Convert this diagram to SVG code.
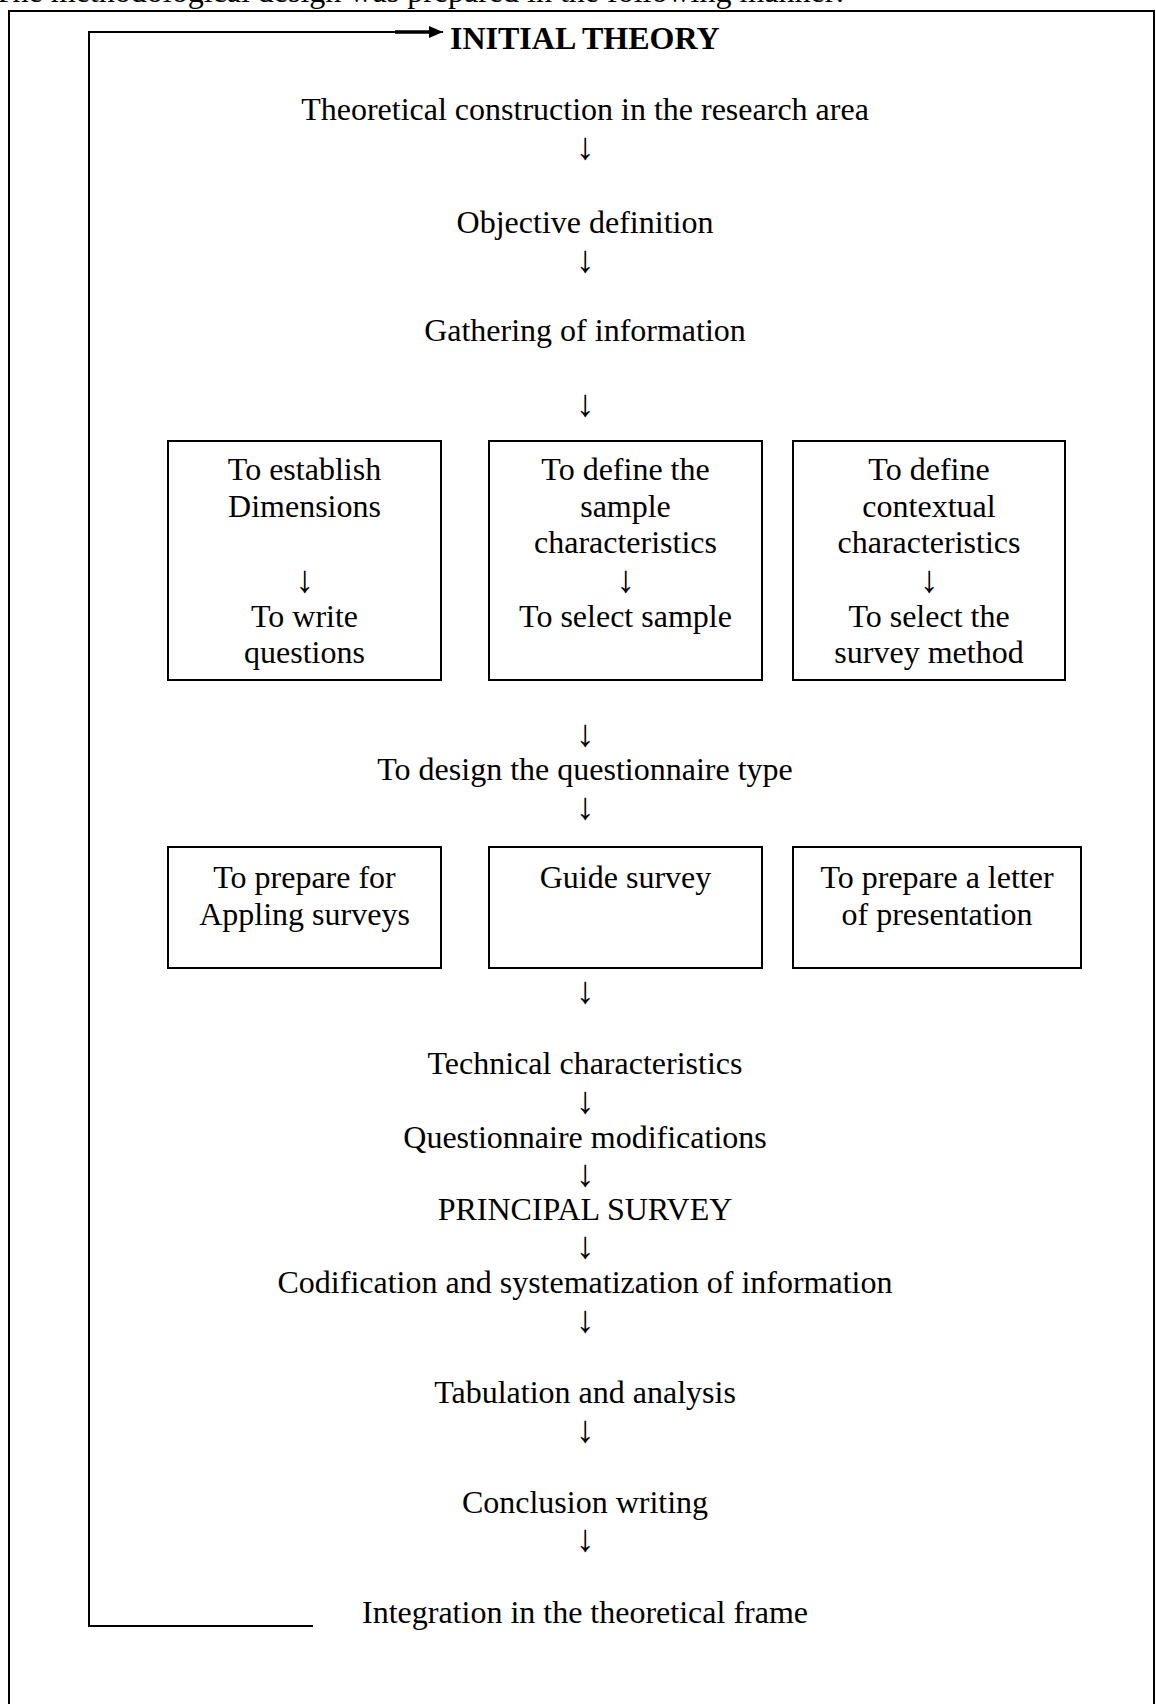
<svg xmlns="http://www.w3.org/2000/svg" width="1156" height="1704" viewBox="0 0 1156 1704">
<style>
.t{font-family:"Liberation Serif","Times New Roman",serif;font-size:32px;fill:#000;text-anchor:middle}
.s{text-anchor:start}
.bd{font-weight:bold}
.ar{font-size:38px}
.box{fill:#fff;stroke:#000;stroke-width:2}
.ln{fill:none;stroke:#000;stroke-width:2}
</style>
<defs>
<marker id="ah" markerWidth="7" markerHeight="6" refX="7" refY="3" orient="auto" markerUnits="strokeWidth">
<path d="M0,0 L7,3 L0,6 Z" fill="#000"/>
</marker>
</defs>
<rect width="1156" height="1704" fill="#fff"/>
<text class="t s" x="-7" y="2">The methodological design was prepared in the following manner:</text>
<path class="ln" d="M9,1704 V11 H1154 V1704"/>

<g id="connectors">
<path class="ln" d="M313,1626 H89 V32 H443" marker-end="url(#ah)"/>
<path d="M395,32 H432" stroke="#000" stroke-width="3.5"/>
<g id="down-arrows">
<text class="t ar" x="585" y="159">↓</text>
<text class="t ar" x="585" y="272">↓</text>
<text class="t ar" x="585" y="416">↓</text>
<text class="t ar" x="585" y="746">↓</text>
<text class="t ar" x="585" y="819">↓</text>
<text class="t ar" x="585" y="1003">↓</text>
<text class="t ar" x="585" y="1113">↓</text>
<text class="t ar" x="585" y="1186">↓</text>
<text class="t ar" x="585" y="1258">↓</text>
<text class="t ar" x="585" y="1332">↓</text>
<text class="t ar" x="585" y="1442">↓</text>
<text class="t ar" x="585" y="1551">↓</text>
</g>
</g>

<g id="n-initial"><text class="t s bd" x="450" y="49">INITIAL THEORY</text></g>
<g id="n-theoretical"><text class="t" x="585" y="120">Theoretical construction in the research area</text></g>
<g id="n-objective"><text class="t" x="585" y="233">Objective definition</text></g>
<g id="n-gathering"><text class="t" x="585" y="341">Gathering of information</text></g>

<g id="n-dimensions">
<rect class="box" x="168" y="441" width="273" height="239"/>
<text class="t" x="304.5" y="480">To establish</text>
<text class="t" x="304.5" y="517">Dimensions</text>
<text class="t ar" x="304.5" y="592">↓</text>
<text class="t" x="304.5" y="627">To write</text>
<text class="t" x="304.5" y="663">questions</text>
</g>
<g id="n-sample">
<rect class="box" x="489" y="441" width="273" height="239"/>
<text class="t" x="625.5" y="480">To define the</text>
<text class="t" x="625.5" y="517">sample</text>
<text class="t" x="625.5" y="553">characteristics</text>
<text class="t ar" x="625.5" y="592">↓</text>
<text class="t" x="625.5" y="627">To select sample</text>
</g>
<g id="n-context">
<rect class="box" x="793" y="441" width="272" height="239"/>
<text class="t" x="929" y="480">To define</text>
<text class="t" x="929" y="517">contextual</text>
<text class="t" x="929" y="553">characteristics</text>
<text class="t ar" x="929" y="592">↓</text>
<text class="t" x="929" y="627">To select the</text>
<text class="t" x="929" y="663">survey method</text>
</g>

<g id="n-design"><text class="t" x="585" y="780">To design the questionnaire type</text></g>

<g id="n-prepare">
<rect class="box" x="168" y="847" width="273" height="121"/>
<text class="t" x="304.5" y="888">To prepare for</text>
<text class="t" x="304.5" y="925">Appling surveys</text>
</g>
<g id="n-guide">
<rect class="box" x="489" y="847" width="273" height="121"/>
<text class="t" x="625.5" y="888">Guide survey</text>
</g>
<g id="n-letter">
<rect class="box" x="793" y="847" width="288" height="121"/>
<text class="t" x="937" y="888">To prepare a letter</text>
<text class="t" x="937" y="925">of presentation</text>
</g>

<g id="n-technical"><text class="t" x="585" y="1074">Technical characteristics</text></g>
<g id="n-modifications"><text class="t" x="585" y="1148">Questionnaire modifications</text></g>
<g id="n-principal"><text class="t" x="585" y="1220">PRINCIPAL SURVEY</text></g>
<g id="n-codification"><text class="t" x="585" y="1293">Codification and systematization of information</text></g>
<g id="n-tabulation"><text class="t" x="585" y="1403">Tabulation and analysis</text></g>
<g id="n-conclusion"><text class="t" x="585" y="1513">Conclusion writing</text></g>
<g id="n-integration"><text class="t" x="585" y="1623">Integration in the theoretical frame</text></g>
</svg>
